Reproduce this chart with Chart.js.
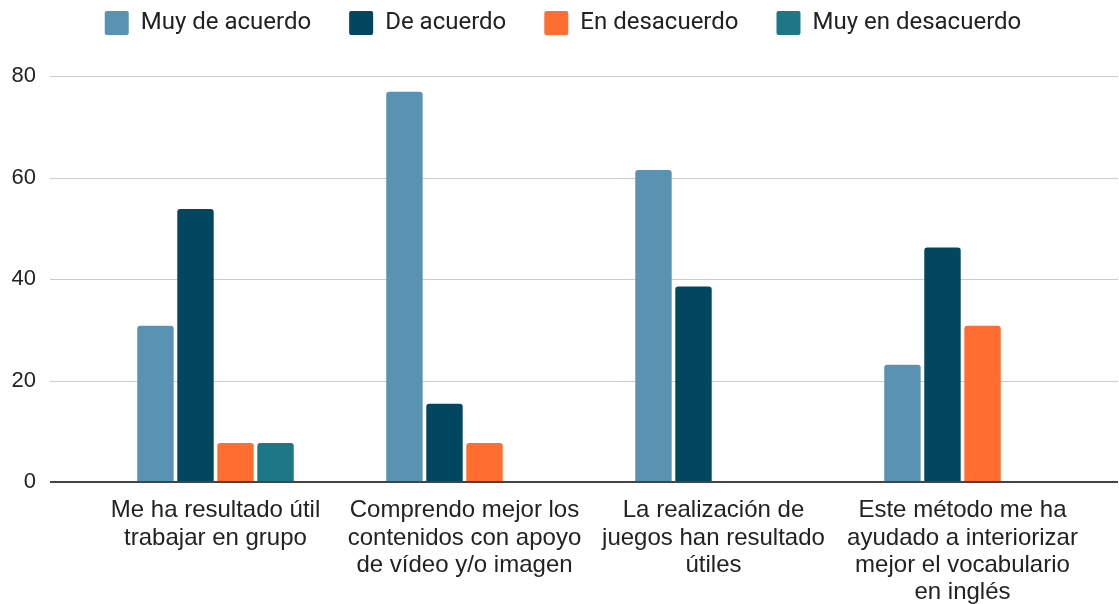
<!DOCTYPE html>
<html>
<head>
<meta charset="utf-8">
<script src="https://cdn.jsdelivr.net/npm/chart.js"></script>
<style>
  body { margin: 0; background: #fff; }
  #wrap { width: 1119px; height: 604px; position: relative; }
</style>
</head>
<body>
<div id="wrap"><canvas id="surveyChart"></canvas></div>
<script>
var categories = [
    ["Me ha resultado útil", "trabajar en grupo"],
    ["Comprendo mejor los", "contenidos con apoyo", "de vídeo y/o imagen"],
    ["La realización de", "juegos han resultado", "útiles"],
    ["Este método me ha", "ayudado a interiorizar", "mejor el vocabulario", "en inglés"]
];
var seriesNames = ["Muy de acuerdo", "De acuerdo", "En desacuerdo", "Muy en desacuerdo"];
var muyDeAcuerdo = [30.8, 76.9, 61.5, 23.1];
var deAcuerdo = [53.8, 15.4, 38.5, 46.2];
var enDesacuerdo = [7.7, 7.7, 0, 30.8];
var muyEnDesacuerdo = [7.7, 0, 0, 0];
var yTicks = [0, 20, 40, 60, 80];
var barColors = ["#5a92b1", "#02465f", "#ff6d31", "#1e7784"];

var seriesValues = [muyDeAcuerdo, deAcuerdo, enDesacuerdo, muyEnDesacuerdo];
var datasets = [];
for (var i = 0; i < seriesNames.length; i++) {
    datasets.push({
        label: seriesNames[i],
        data: seriesValues[i],
        backgroundColor: barColors[i],
        borderWidth: 0,
        borderRadius: 3,
        barPercentage: 0.91,
        categoryPercentage: 0.643
    });
}

// legend: keep the plot top at the 80 line and nudge the legend into place
var legendTweak = {
    id: "legendTweak",
    beforeInit: function(chart) {
        var lg = chart.legend;
        var fit = lg.fit;
        lg.fit = function() {
            fit.bind(lg)();
            this.height += 4;
        };
        var draw = lg.draw;
        lg.draw = function() {
            var ctx = this.ctx;
            ctx.save();
            ctx.translate(14, -27);
            draw.apply(this, arguments);
            ctx.restore();
        };
    }
};

// gridlines run wider than the category area, like the original
var wideGrid = {
    id: "wideGrid",
    beforeDatasetsDraw: function(chart) {
        var ctx = chart.ctx, y = chart.scales.y;
        ctx.save();
        ctx.strokeStyle = "#cccccc";
        ctx.lineWidth = 1;
        yTicks.forEach(function(v) {
            if (v === 0) return;
            var py = Math.round(y.getPixelForValue(v)) + 0.5;
            ctx.beginPath();
            ctx.moveTo(50, py);
            ctx.lineTo(1118, py);
            ctx.stroke();
        });
        ctx.restore();
    },
    afterDatasetsDraw: function(chart) {
        var ctx = chart.ctx, y = chart.scales.y;
        var py = Math.round(y.getPixelForValue(0));
        ctx.save();
        ctx.strokeStyle = "#444444";
        ctx.lineWidth = 2;
        ctx.beginPath();
        ctx.moveTo(50, py);
        ctx.lineTo(1118, py);
        ctx.stroke();
        ctx.restore();
    }
};

new Chart("surveyChart", {
    type: "bar",
    data: {
        labels: categories,
        datasets: datasets
    },
    options: {
        responsive: true,
        maintainAspectRatio: false,
        animation: false,
        layout: {
            padding: {left: 11, right: 32, top: 0, bottom: 0}
        },
        plugins: {
            legend: {
                position: "top",
                labels: {
                    boxWidth: 24,
                    boxHeight: 24,
                    padding: 38,
                    color: "#222222",
                    useBorderRadius: true,
                    borderRadius: 2,
                    font: {family: "Roboto", size: 24}
                }
            },
            tooltip: {enabled: false}
        },
        scales: {
            x: {
                grid: {display: false, drawTicks: false},
                border: {display: false},
                afterFit: function(scale) {
                    scale.height = 122;
                    scale.paddingLeft = 0;
                    scale.paddingRight = 0;
                },
                ticks: {
                    color: "#222222",
                    padding: 15,
                    maxRotation: 0,
                    autoSkip: false,
                    font: {family: "Liberation Sans", size: 24, lineHeight: 1.14}
                }
            },
            y: {
                min: 0,
                max: 80,
                grid: {display: false, drawTicks: false},
                border: {display: false},
                afterFit: function(scale) {
                    scale.width = 80;
                },
                ticks: {
                    stepSize: 20,
                    color: "#222222",
                    padding: 55,
                    font: {family: "Liberation Sans", size: 22}
                }
            }
        }
    },
    plugins: [legendTweak, wideGrid]
});
</script>
</body>
</html>
